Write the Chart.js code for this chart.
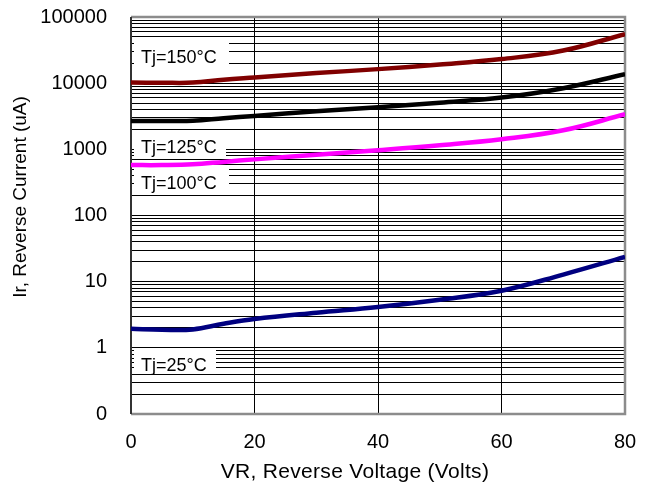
<!DOCTYPE html>
<html>
<head>
<meta charset="utf-8">
<script src="https://cdn.jsdelivr.net/npm/chart.js@4.4.1/dist/chart.umd.min.js"></script>
<style>
  html, body { margin: 0; padding: 0; background: #fff; }
  #wrap { width: 653px; height: 487px; }
</style>
</head>
<body>
<div id="wrap"><canvas id="irChart" width="653" height="487"></canvas></div>
<script>
// reverse voltage (V) and reverse current (uA)
const voltage = [0, 5, 10, 15, 20, 30, 40, 50, 60, 70, 80];
const ir150 = [10200, 10150, 10200, 11300, 12200, 14200, 16300, 19100, 23100, 31100, 55200];
const ir125 = [2690, 2690, 2700, 2950, 3200, 3770, 4330, 5070, 6070, 8400, 13700];
const ir100 = [578, 578, 593, 646, 705, 826, 966, 1150, 1420, 1940, 3390];
const ir25 = [1.94, 1.88, 1.9, 2.31, 2.72, 3.39, 4.14, 5.34, 7.3, 12.8, 23.7];

const yMajorTicks = [0.1, 1, 10, 100, 1000, 10000, 100000];
const yTickLabels = ['0', '1', '10', '100', '1000', '10000', '100000'];

const seriesNames = ['Tj=150°C', 'Tj=125°C', 'Tj=100°C', 'Tj=25°C'];
const xTitle = 'VR, Reverse Voltage (Volts)';
const yTitle = 'Ir, Reverse Current (uA)';

// grid lines at 1..9 of every decade
const yGridValues = [];
yMajorTicks.forEach((m, i) => {
    if (i === yMajorTicks.length - 1) { yGridValues.push(m); return; }
    for (let k = 1; k <= 9; k++) yGridValues.push(k === 1 ? m : m * k);
});

const FONT = 'Liberation Sans, Arial, sans-serif';

// white text boxes sitting on the grid, anchored at a current value
const curveLabels = [
    { text: seriesNames[0], at: 24800, w: 95 },
    { text: seriesNames[1], at: 1070, w: 92 },
    { text: seriesNames[2], at: 305, w: 95 },
    { text: seriesNames[3], at: 0.55, w: 82 }
];

const boxesAndFrame = {
    id: 'boxesAndFrame',
    beforeDatasetsDraw(chart) {
        const ctx = chart.ctx;
        const a = chart.chartArea;
        const y = chart.scales.y;
        ctx.save();
        curveLabels.forEach(l => {
            const cy = y.getPixelForValue(l.at);
            ctx.fillStyle = '#fff';
            ctx.fillRect(a.left + 3, cy - 16, l.w, 25);
            ctx.fillStyle = '#000';
            ctx.font = '18px ' + FONT;
            ctx.textBaseline = 'middle';
            ctx.fillText(l.text, a.left + 10, cy + 1);
        });
        // plot frame: grey top/right/bottom, dark left
        ctx.strokeStyle = '#8c8c8c';
        ctx.lineWidth = 2.5;
        ctx.beginPath();
        ctx.moveTo(a.left, a.top);
        ctx.lineTo(a.right, a.top);
        ctx.lineTo(a.right, a.bottom);
        ctx.lineTo(a.left, a.bottom);
        ctx.stroke();
        ctx.strokeStyle = '#333';
        ctx.lineWidth = 2;
        ctx.beginPath();
        ctx.moveTo(a.left, a.top);
        ctx.lineTo(a.left, a.bottom);
        ctx.stroke();
        ctx.restore();
    },
    // axis titles sit off-centre in the original, so they are drawn here
    afterDraw(chart) {
        const ctx = chart.ctx;
        ctx.save();
        ctx.fillStyle = '#000';
        ctx.textAlign = 'center';
        ctx.textBaseline = 'middle';
        ctx.font = '21px ' + FONT;
        ctx.letterSpacing = '0.3px';
        ctx.fillText(xTitle, 355, 472);
        ctx.letterSpacing = '0px';
        ctx.font = '19px ' + FONT;
        ctx.translate(21, 197);
        ctx.rotate(-Math.PI / 2);
        ctx.fillText(yTitle, 0, 0);
        ctx.restore();
    }
};

function curve(data, color) {
    return {
        data: data,
        borderColor: color,
        borderWidth: 4.5,
        pointRadius: 0,
        fill: false,
        tension: 0.4
    };
}

new Chart(document.getElementById('irChart'), {
    type: 'line',
    data: {
        labels: voltage,
        datasets: [
            curve(ir150, '#800000'),
            curve(ir125, '#000000'),
            curve(ir100, '#ff00ff'),
            curve(ir25, '#000080')
        ]
    },
    options: {
        responsive: false,
        animation: false,
        devicePixelRatio: 1,
        layout: { padding: { top: 17, right: 28, left: 0, bottom: 0 } },
        plugins: {
            legend: { display: false },
            tooltip: { enabled: false }
        },
        scales: {
            x: {
                type: 'linear',
                min: 0,
                max: 80,
                afterFit: s => {
                    s.height = 73;
                    s.paddingLeft = 0;
                    s.paddingRight = 0;
                },
                ticks: {
                    stepSize: 20,
                    color: '#000',
                    padding: 16,
                    font: { family: FONT, size: 20 }
                },
                grid: { color: '#000', lineWidth: 1, drawTicks: false },
                border: { display: false }
            },
            y: {
                type: 'logarithmic',
                min: 0.1,
                max: 100000,
                afterFit: s => {
                    s.width = 131;
                    s.paddingTop = 0;
                    s.paddingBottom = 0;
                },
                afterBuildTicks: s => {
                    s.ticks = yGridValues.map(v => ({ value: v }));
                },
                ticks: {
                    autoSkip: false,
                    color: '#000',
                    padding: 24,
                    font: { family: FONT, size: 20 },
                    callback: v => {
                        const i = yMajorTicks.indexOf(v);
                        return i >= 0 ? yTickLabels[i] : '';
                    }
                },
                grid: { color: '#000', lineWidth: 1, drawTicks: false },
                border: { display: false }
            }
        }
    },
    plugins: [boxesAndFrame]
});
</script>
</body>
</html>
